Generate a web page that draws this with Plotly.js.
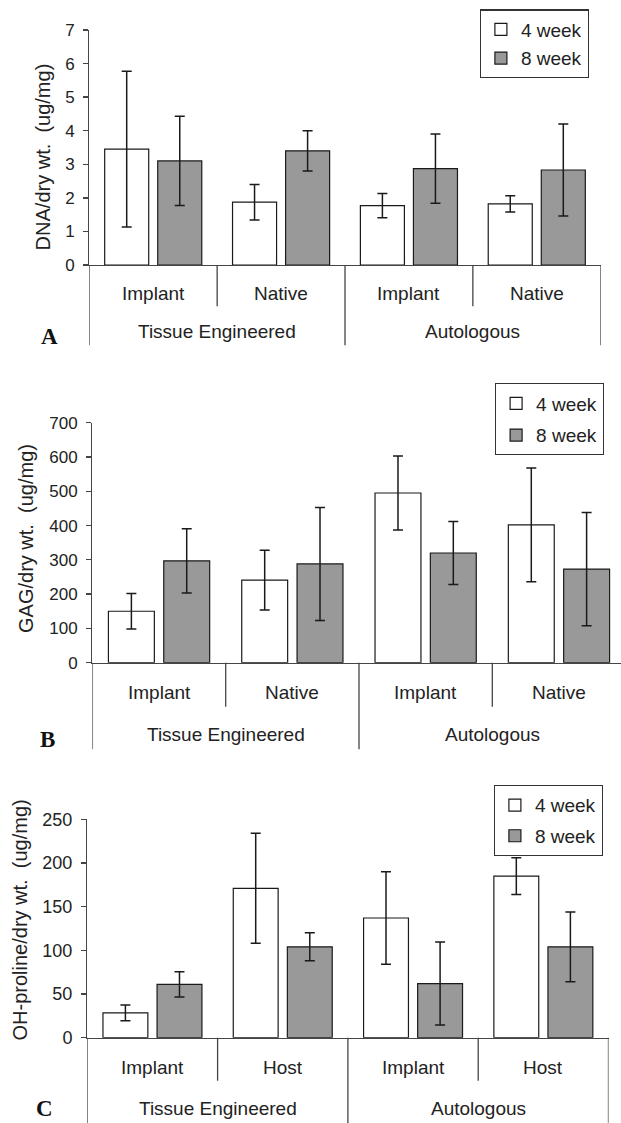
<!DOCTYPE html>
<html>
<head>
<meta charset="utf-8">
<script src="https://cdn.plot.ly/plotly-3.0.1.min.js"></script>
<style>
  html, body { margin: 0; padding: 0; background: #fff; overflow: hidden; }
  #chart { width: 621px; height: 1123px; }
</style>
</head>
<body>
<div id="chart"></div>
<script>
// ---------------- DATA ----------------
const seriesNames = ['4 week', '8 week'];
const groupLabels = ['Tissue Engineered', 'Autologous'];
const subLabelsAB = ['Implant', 'Native', 'Implant', 'Native'];
const subLabelsC  = ['Implant', 'Host', 'Implant', 'Host'];

// Panel A: DNA/dry wt. (ug/mg)
const dna4    = [3.45, 1.87, 1.77, 1.82];
const dna4Err = [2.32, 0.53, 0.36, 0.24];
const dna8    = [3.10, 3.40, 2.87, 2.83];
const dna8Err = [1.33, 0.60, 1.03, 1.37];

// Panel B: GAG/dry wt. (ug/mg)
const gag4    = [150, 241, 495, 402];
const gag4Err = [52, 87, 108, 166];
const gag8    = [297, 288, 320, 273];
const gag8Err = [94, 165, 92, 165];

// Panel C: OH-proline/dry wt. (ug/mg)
const hyp4    = [28.5, 171, 137, 185];
const hyp4Err = [9, 63, 53, 21];
const hyp8    = [61, 104, 62, 104];
const hyp8Err = [14.5, 16, 47.5, 40];

const yTitles = ['DNA/dry wt.\u00a0 (ug/mg)', 'GAG/dry wt.\u00a0 (ug/mg)', 'OH-proline/dry wt.\u00a0 (ug/mg)'];
const panelLetters = ['A', 'B', 'C'];

// ---------------- LAYOUT HELPERS ----------------
const W = 621, H = 1123;
const fx = px => px / W;
const fy = py => 1 - py / H;
const FONT = 'Liberation Sans, Arial, Helvetica, sans-serif';
const INK = '#222222';
const LINE = '#454545';
const fillColors = ['#ffffff', '#999999'];

const panels = [
  { ax: '',  data: [[dna4, dna4Err], [dna8, dna8Err]], subs: subLabelsAB,
    xpx: [89.3, 600.7], catPx: 127.85, ypx: [30, 265], range: [0, 7], dtick: 1, tickSize: 17,
    subY: 293.7, groupY: 332, shortY: 306.3, longY: 345.3,
    titleX: 43, titleY: 157.4, letterX: 49, letterY: 337,
    legendRight: 588.7, legendTop: 9.3, legendGap: 1 },
  { ax: '2', data: [[gag4, gag4Err], [gag8, gag8Err]], subs: subLabelsAB,
    xpx: [92.4, 621], catPx: 133.3, ypx: [422.7, 662.7], range: [0, 700], dtick: 100, tickSize: 17,
    subY: 692.7, groupY: 734.3, shortY: 706.7, longY: 749.3,
    titleX: 26, titleY: 539, letterX: 47, letterY: 739,
    legendRight: 603.9, legendTop: 383.3, legendGap: 4 },
  { ax: '3', data: [[hyp4, hyp4Err], [hyp8, hyp8Err]], subs: subLabelsC,
    xpx: [87.3, 608.5], catPx: 130.3, ypx: [819.3, 1037.7], range: [0, 250], dtick: 50, tickSize: 18,
    subY: 1067.3, groupY: 1108.3, shortY: 1080.7, longY: 1123,
    titleX: 19.5, titleY: 920, letterX: 44, letterY: 1108,
    legendRight: 602.7, legendTop: 785, legendGap: 3 }
];

const traces = [];
const annotations = [];
const shapes = [];
const layout = {
  width: W, height: H,
  margin: { l: 0, r: 0, t: 0, b: 0 },
  paper_bgcolor: '#ffffff', plot_bgcolor: '#ffffff',
  barmode: 'group', bargap: 0.17, bargroupgap: 0.17,
  font: { family: FONT, color: INK },
  showlegend: true
};

panels.forEach((p, pi) => {
  const xa = 'x' + p.ax, ya = 'y' + p.ax;
  const legendId = 'legend' + p.ax;
  const nCat = p.subs.length;
  const xs = p.subs.map((_, i) => i);

  p.data.forEach(([vals, errs], si) => {
    traces.push({
      type: 'bar', name: seriesNames[si], x: xs, y: vals,
      xaxis: xa, yaxis: ya, legend: legendId, legendgroup: 'g' + si,
      marker: { color: fillColors[si], line: { color: '#1a1a1a', width: 1.2 } },
      error_y: { type: 'data', array: errs, visible: true, color: '#1a1a1a', thickness: 1.5, width: 5 },
      hoverinfo: 'skip'
    });
  });

  const xEnd = -0.5 + (p.xpx[1] - p.xpx[0]) / p.catPx;
  layout['xaxis' + p.ax] = {
    domain: [fx(p.xpx[0]), fx(p.xpx[1])], anchor: ya,
    range: [-0.5, xEnd], type: 'linear', fixedrange: true,
    showticklabels: false, ticks: '', showgrid: false, zeroline: false,
    showline: true, linecolor: LINE, linewidth: 1.3
  };
  layout['yaxis' + p.ax] = {
    domain: [fy(p.ypx[1]), fy(p.ypx[0])], anchor: xa,
    range: p.range, dtick: p.dtick, tick0: 0, fixedrange: true,
    showgrid: false, zeroline: false,
    showline: true, linecolor: LINE, linewidth: 1.3,
    ticks: 'outside', ticklen: 5, tickwidth: 1.3, tickcolor: LINE,
    ticklabelstandoff: 5,
    tickfont: { family: FONT, size: p.tickSize, color: INK }
  };
  layout[legendId] = {
    x: fx(p.legendRight), y: fy(p.legendTop), xanchor: 'right', yanchor: 'top',
    xref: 'paper', yref: 'paper',
    bgcolor: '#ffffff', bordercolor: '#333333', borderwidth: 1.2,
    font: { family: FONT, size: 19, color: INK },
    traceorder: 'grouped', tracegroupgap: p.legendGap, itemwidth: 30
  };

  // category dividers below the axis (every boundary; group boundaries longer)
  for (let b = 0; b <= nCat; b++) {
    const isGroupEdge = (b % 2 === 0);
    shapes.push({
      type: 'line', xref: xa, yref: 'paper',
      x0: b - 0.5, x1: b - 0.5,
      y0: fy(p.ypx[1]), y1: fy(isGroupEdge ? p.longY : p.shortY),
      line: { color: LINE, width: 1.3 }
    });
  }
  // sub-category labels
  p.subs.forEach((lab, i) => {
    annotations.push({ xref: xa, yref: 'paper', x: i, y: fy(p.subY),
      text: lab, showarrow: false, xanchor: 'center', yanchor: 'middle',
      font: { family: FONT, size: 19, color: INK } });
  });
  // group labels
  groupLabels.forEach((lab, g) => {
    annotations.push({ xref: xa, yref: 'paper', x: 2 * g + 0.5, y: fy(p.groupY),
      text: lab, showarrow: false, xanchor: 'center', yanchor: 'middle',
      font: { family: FONT, size: 19, color: INK } });
  });
  // y-axis title
  annotations.push({ xref: 'paper', yref: 'paper', x: fx(p.titleX), y: fy(p.titleY),
    text: yTitles[pi], textangle: -90, showarrow: false, xanchor: 'center', yanchor: 'middle',
    font: { family: FONT, size: 20, color: INK } });
  // panel letter
  annotations.push({ xref: 'paper', yref: 'paper', x: fx(p.letterX), y: fy(p.letterY),
    text: '<b>' + panelLetters[pi] + '</b>', showarrow: false, xanchor: 'center', yanchor: 'middle',
    font: { family: 'Liberation Serif, Times New Roman, serif', size: 23, color: '#111111' } });
});

layout.annotations = annotations;
layout.shapes = shapes;

Plotly.newPlot('chart', traces, layout, { staticPlot: true, displayModeBar: false });
</script>
</body>
</html>
